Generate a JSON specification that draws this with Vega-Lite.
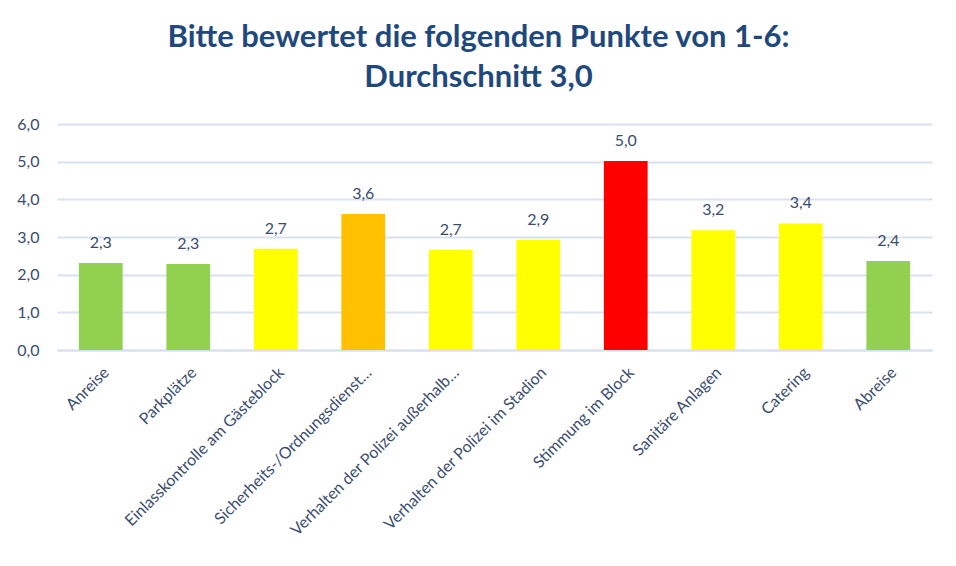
{
  "$schema": "https://vega.github.io/schema/vega-lite/v6.json",
  "description": "Bewertung der Auswärtsfahrt, Durchschnittsnoten 1-6",
  "width": 875,
  "height": 226,
  "autosize": {"type": "none"},
  "padding": {"left": 57, "top": 124, "right": 24, "bottom": 216},
  "background": "white",
  "title": {
    "text": ["Bitte bewertet die folgenden Punkte von 1-6:", "Durchschnitt 3,0"],
    "font": "Lato",
    "fontSize": 31,
    "fontWeight": "bold",
    "color": "#1F497D",
    "anchor": "middle",
    "dx": -16,
    "offset": 22,
    "lineHeight": 40
  },
  "data": {
    "values": [
      {"punkt": "Anreise", "wert": 2.31},
      {"punkt": "Parkplätze", "wert": 2.28},
      {"punkt": "Einlasskontrolle am Gästeblock", "wert": 2.69},
      {"punkt": "Sicherheits-/Ordnungsdienst…", "wert": 3.61},
      {"punkt": "Verhalten der Polizei außerhalb…", "wert": 2.66},
      {"punkt": "Verhalten der Polizei im Stadion", "wert": 2.92},
      {"punkt": "Stimmung im Block", "wert": 5.02},
      {"punkt": "Sanitäre Anlagen", "wert": 3.18},
      {"punkt": "Catering", "wert": 3.36},
      {"punkt": "Abreise", "wert": 2.36}
    ]
  },
  "encoding": {
    "x": {
      "field": "punkt",
      "type": "nominal",
      "sort": null,
      "scale": {"paddingInner": 0.5, "paddingOuter": 0.25},
      "axis": {
        "title": null,
        "labelAngle": -45,
        "labelFont": "Lato",
        "labelFontSize": 16,
        "labelColor": "#3A4D6E",
        "labelPadding": 14,
        "labelLimit": 300,
        "ticks": false,
        "domainColor": "#D9E1F0",
        "domainWidth": 2
      }
    },
    "y": {
      "field": "wert",
      "type": "quantitative",
      "scale": {"domain": [0, 6]},
      "axis": {
        "title": null,
        "values": [0, 1, 2, 3, 4, 5, 6],
        "format": ".1f",
        "labelFont": "Lato",
        "labelFontSize": 16,
        "labelColor": "#3A4D6E",
        "labelPadding": 18,
        "ticks": false,
        "domain": false,
        "gridColor": "#D9E1F0",
        "gridWidth": 2
      }
    }
  },
  "layer": [
    {
      "mark": {"type": "bar"},
      "encoding": {
        "color": {
          "field": "wert",
          "type": "quantitative",
          "scale": {
            "type": "threshold",
            "domain": [2.5, 3.5, 4.5],
            "range": ["#92D050", "#FFFF00", "#FFC000", "#FF0000"]
          },
          "legend": null
        }
      }
    },
    {
      "mark": {
        "type": "text",
        "baseline": "bottom",
        "dy": -12,
        "font": "Lato",
        "fontSize": 16,
        "color": "#3A4D6E"
      },
      "encoding": {
        "text": {"field": "wert", "type": "quantitative", "format": ".1f"}
      }
    }
  ],
  "config": {
    "view": {"stroke": null},
    "locale": {
      "number": {"decimal": ",", "thousands": ".", "grouping": [3], "currency": ["", " €"]}
    }
  }
}
